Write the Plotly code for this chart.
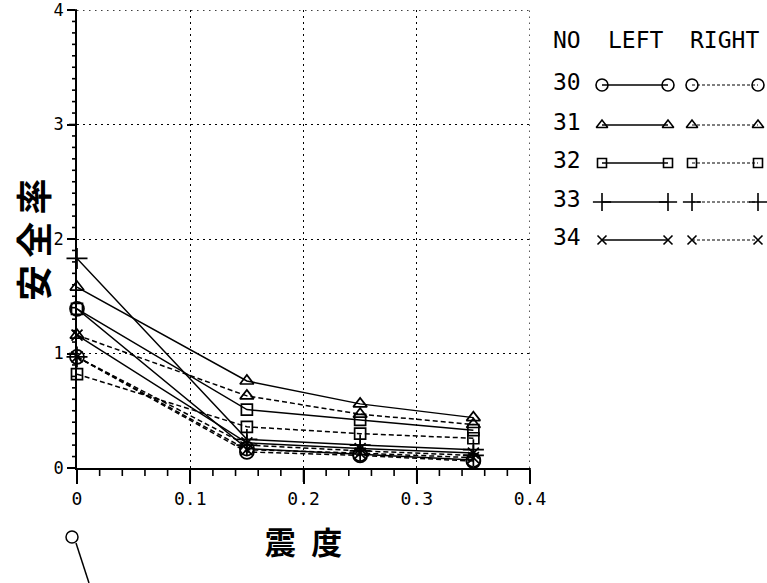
import numpy as np
import plotly.graph_objects as go

# ---------------- data ----------------
x_vals = [0, 0.15, 0.25, 0.35]
series_no = ["30", "31", "32", "33", "34"]
symbols = ["circle-open", "triangle-up-open", "square-open", "cross-thin-open", "x-thin-open"]
sizes = [14, 12, 11, 15, 11]

left_30 = [1.39, 0.17, 0.12, 0.07]
left_31 = [1.58, 0.76, 0.56, 0.44]
left_32 = [1.39, 0.51, 0.42, 0.33]
left_33 = [1.83, 0.25, 0.20, 0.16]
left_34 = [1.16, 0.22, 0.17, 0.13]

right_30 = [0.97, 0.14, 0.11, 0.06]
right_31 = [1.16, 0.63, 0.47, 0.38]
right_32 = [0.82, 0.36, 0.30, 0.26]
right_33 = [0.97, 0.20, 0.15, 0.11]
right_34 = [0.97, 0.16, 0.13, 0.09]

left_vals = [left_30, left_31, left_32, left_33, left_34]
right_vals = [right_30, right_31, right_32, right_33, right_34]

x_range = [0, 0.4]
y_range = [0, 4]
x_major_step, x_minor_step = 0.1, 0.02
y_major_step, y_minor_step = 1.0, 0.1

MONO = "DejaVu Sans Mono"
CJK = "Noto Sans CJK JP"

T, B, L, R = 10, 115, 77, 4
W = 767 - L - R
H = 583 - T - B

fig = go.Figure()

for i, no in enumerate(series_no):
    fig.add_trace(go.Scatter(
        x=x_vals, y=left_vals[i], mode="lines+markers", name=no + " LEFT",
        line=dict(color="black", width=1.5),
        marker=dict(symbol=symbols[i], size=sizes[i], color="black",
                    line=dict(color="black", width=1.7)),
        showlegend=False, cliponaxis=False))
    fig.add_trace(go.Scatter(
        x=x_vals, y=right_vals[i], mode="lines+markers", name=no + " RIGHT",
        line=dict(color="black", width=1.5, dash="5px,3px"),
        marker=dict(symbol=symbols[i], size=sizes[i], color="black",
                    line=dict(color="black", width=1.7)),
        showlegend=False, cliponaxis=False))

# ---------------- custom legend (pixel-like helper axes) ----------------
row_y = [85, 125, 163, 202, 240]
for i, no in enumerate(series_no):
    fig.add_trace(go.Scatter(
        x=[602, 668], y=[row_y[i], row_y[i]], xaxis="x2", yaxis="y2",
        mode="lines+markers", showlegend=False, hoverinfo="skip",
        line=dict(color="black", width=1.3),
        marker=dict(symbol=symbols[i], size=sizes[i] - 2, color="black",
                    line=dict(color="black", width=1.6)), cliponaxis=False))
    fig.add_trace(go.Scatter(
        x=[692, 758], y=[row_y[i], row_y[i]], xaxis="x2", yaxis="y2",
        mode="lines+markers", showlegend=False, hoverinfo="skip",
        line=dict(color="black", width=1.1, dash="3px,2px"),
        marker=dict(symbol=symbols[i], size=sizes[i] - 2, color="black",
                    line=dict(color="black", width=1.6)), cliponaxis=False))
    fig.add_annotation(x=567, y=row_y[i] - 3, xref="x2", yref="y2", text=no,
                       showarrow=False, font=dict(family=MONO, size=23, color="black"))

for txt, xx in [("NO", 567), ("LEFT", 636), ("RIGHT", 724)]:
    fig.add_annotation(x=xx, y=40, xref="x2", yref="y2", text=txt, showarrow=False,
                       font=dict(family=MONO, size=23, color="black"))

# ---------------- helpers for paper coordinates ----------------
def px(xp):
    return (xp - L) / W
def py(yp):
    return (583 - B - yp) / H

# y-axis title (rotated)
fig.add_annotation(x=px(32), y=py(240), xref="paper", yref="paper",
                   text="<b>安\u2009全\u2009率</b>", textangle=-90, showarrow=False,
                   xanchor="center", yanchor="middle",
                   font=dict(family=CJK, size=36, color="black"))

# dotted frame on top and right edges (grid at range ends)
fig.add_shape(type="line", xref="x", yref="y", x0=x_range[0], x1=x_range[1],
              y0=y_range[1], y1=y_range[1],
              line=dict(color="black", width=1.3, dash="1.5px,4.5px"))
fig.add_shape(type="line", xref="x", yref="y", x0=x_range[1], x1=x_range[1],
              y0=y_range[0], y1=y_range[1],
              line=dict(color="black", width=1.3, dash="1.5px,4.5px"))

# tick marks (shapes in unclipped paper coordinates along the axes)
main_right = (530 - L) / W
n_x = int(round((x_range[1] - x_range[0]) / x_minor_step))
x_major_every = int(round(x_major_step / x_minor_step))
for k in range(n_x + 1):
    frac = k / n_x
    is_major = (k % x_major_every) == 0
    xp = frac * main_right
    fig.add_shape(type="line", xref="paper", yref="paper", layer="above",
                  x0=xp, x1=xp, y0=0, y1=-(14 if is_major else 8) / H,
                  line=dict(color="black", width=1.6))
n_y = int(round((y_range[1] - y_range[0]) / y_minor_step))
y_major_every = int(round(y_major_step / y_minor_step))
for k in range(n_y + 1):
    frac = k / n_y
    is_major = (k % y_major_every) == 0
    fig.add_shape(type="line", xref="paper", yref="paper", layer="above",
                  y0=frac, y1=frac, x0=0, x1=-(8 if is_major else 5) / W,
                  line=dict(color="black", width=1.6))

# stray pointer mark at bottom left
fig.add_shape(type="circle", xref="paper", yref="paper",
              x0=px(66), x1=px(78), y0=py(531), y1=py(543),
              line=dict(color="black", width=1.5))
fig.add_shape(type="line", xref="paper", yref="paper",
              x0=px(76), y0=py(543), x1=px(89), y1=py(583),
              line=dict(color="black", width=1.5))

fig.update_layout(
    width=767, height=583, autosize=False,
    margin=dict(l=L, r=R, t=T, b=B),
    paper_bgcolor="white", plot_bgcolor="white",
    showlegend=False,
    xaxis=dict(
        domain=[0, main_right], range=x_range, automargin=False,
        tickmode="linear", tick0=0, dtick=x_major_step,
        showline=True, linecolor="black", linewidth=1.5,
        ticks="outside", ticklen=14, tickwidth=1.5, tickcolor="black",
        showgrid=True, gridcolor="black", gridwidth=1.3, griddash="1.5px,4.5px",
        zeroline=False, ticklabeloverflow="allow",
        tickfont=dict(family=MONO, size=18, color="black"),
        title=dict(text="<b>震\u2002度</b>", font=dict(family=CJK, size=31, color="black"), standoff=24),
    ),
    yaxis=dict(
        range=y_range, automargin=False,
        tickmode="linear", tick0=0, dtick=y_major_step,
        showline=True, linecolor="black", linewidth=1.5,
        ticks="outside", ticklen=8, tickwidth=1.5, tickcolor="black",
        showgrid=True, gridcolor="black", gridwidth=1.3, griddash="1.5px,4.5px",
        zeroline=False, ticklabeloverflow="allow",
        tickfont=dict(family=MONO, size=17, color="black"),
    ),
    xaxis2=dict(domain=[main_right, 1], range=[530, 763], visible=False, fixedrange=True),
    yaxis2=dict(domain=[0, 1], range=[583 - B, T], visible=False, fixedrange=True, anchor="x2"),
)

fig.write_html("out.html", config={"responsive": False})
